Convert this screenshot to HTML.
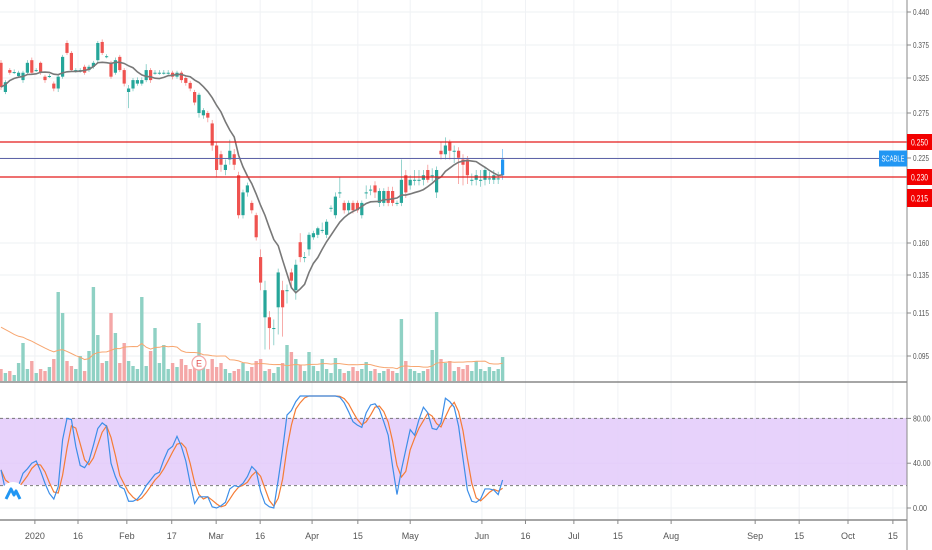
<!DOCTYPE html>
<html><head><meta charset="utf-8"><style>
body{margin:0;background:#fff;}
svg{display:block;font-family:"Liberation Sans",sans-serif;}
</style></head><body>
<svg id="chart" width="932" height="550" viewBox="0 0 932 550">
<rect x="0" y="0" width="932" height="550" fill="#fff"/>
<g id="grid"></g>
<rect x="0" y="418" width="907" height="67" fill="#e4cdfb" opacity="0.9"/>
<g id="vol"></g>
<g id="candles"></g>
<g id="lines"></g>
<g id="stoch"></g>
<g id="axes"></g>
</svg>
<script>
const priceTicks=[0.440,0.375,0.325,0.275,0.225,0.160,0.135,0.115,0.095];
const priceTickLabels=["0.440","0.375","0.325","0.275","0.225","0.160","0.135","0.115","0.095"];
const levels=[0.250,0.230];
const levelLabels=["0.250","0.230"];
const lastLabel="0.215";
const stochTicks=[80,40,0];
const stochTickLabels=["80.00","40.00","0.00"];
const dateLabels=["2020","16","Feb","17","Mar","16","Apr","15","May","Jun","16","Jul","15","Aug","Sep","15","Oct","15"];
const dateIdx=[7.7,17.5,28.6,38.8,48.9,58.9,70.7,81.1,93,109.3,119.2,130.2,140.2,152.3,171.4,181.4,192.5,202.7];
const opens=[.348,.305,.337,.334,.328,.322,.333,.352,.337,.348,.327,.328,.317,.310,.327,.379,.363,.337,.337,.342,.337,.342,.352,.381,.358,.348,.333,.357,.337,.305,.310,.317,.317,.322,.337,.333,.333,.333,.333,.333,.327,.333,.325,.318,.305,.275,.273,.275,.266,.248,.243,.234,.240,.243,.231,.194,.219,.209,.194,.149,.113,.113,.108,.118,.127,.127,.137,.127,.161,.149,.155,.167,.170,.176,.170,.203,.194,.219,.209,.200,.209,.209,.194,.219,.221,.224,.209,.209,.220,.220,.209,.209,.231,.224,.228,.228,.228,.234,.231,.219,.245,.243,.250,.245,.245,.240,.240,.228,.228,.228,.228,.229,.228,.229,.231];
const closes=[.312,.319,.333,.334,.333,.333,.348,.333,.337,.333,.322,.328,.310,.327,.357,.363,.337,.337,.337,.333,.342,.348,.379,.363,.358,.327,.352,.337,.317,.310,.322,.322,.322,.337,.322,.333,.333,.333,.333,.327,.333,.322,.318,.310,.290,.301,.279,.271,.248,.234,.237,.237,.245,.237,.194,.219,.224,.200,.167,.131,.127,.108,.108,.137,.118,.127,.132,.143,.149,.149,.170,.172,.178,.176,.186,.203,.216,.219,.200,.209,.200,.200,.209,.219,.221,.219,.220,.220,.209,.209,.209,.228,.219,.228,.228,.228,.231,.228,.231,.234,.243,.248,.245,.245,.241,.237,.231,.228,.231,.228,.234,.229,.231,.229,.240];
const highs=[.352,.322,.340,.338,.336,.336,.352,.356,.340,.350,.330,.331,.320,.330,.360,.384,.366,.340,.340,.345,.345,.351,.383,.386,.361,.351,.356,.360,.340,.315,.325,.326,.326,.346,.340,.337,.337,.337,.337,.336,.336,.336,.328,.321,.308,.304,.282,.278,.269,.250,.245,.240,.252,.246,.233,.221,.226,.212,.197,.155,.132,.116,.112,.140,.132,.130,.140,.147,.172,.153,.173,.175,.180,.185,.189,.206,.219,.230,.212,.212,.212,.212,.212,.224,.224,.227,.222,.222,.223,.223,.212,.240,.234,.231,.234,.234,.234,.237,.235,.236,.250,.254,.252,.248,.247,.243,.242,.232,.234,.234,.236,.233,.234,.233,.246];
const lows=[.308,.302,.330,.331,.325,.318,.330,.330,.334,.330,.318,.325,.306,.305,.324,.360,.334,.333,.333,.330,.334,.339,.349,.360,.355,.324,.330,.334,.313,.282,.306,.314,.314,.319,.318,.330,.330,.330,.330,.323,.324,.318,.314,.306,.286,.271,.270,.267,.245,.230,.233,.231,.237,.234,.190,.190,.216,.196,.163,.127,.098,.098,.100,.105,.104,.120,.129,.122,.145,.145,.150,.164,.166,.172,.166,.198,.190,.215,.196,.196,.196,.197,.190,.214,.217,.215,.204,.205,.205,.205,.205,.205,.215,.221,.224,.224,.224,.226,.227,.215,.240,.240,.240,.238,.225,.224,.225,.224,.224,.223,.224,.225,.225,.225,.228];
const volumes=[12,8,10,6,18,38,12,20,8,12,10,14,22,89,68,20,15,12,25,10,30,94,46,18,20,68,48,18,38,20,15,12,84,15,30,53,18,36,12,18,14,22,16,12,20,58,15,12,22,14,18,12,8,10,12,18,10,14,20,22,10,12,8,14,18,36,29,22,16,10,29,15,10,22,12,8,23,12,8,10,14,10,12,19,10,12,8,10,12,10,8,62,20,12,10,8,10,12,31,69,22,18,20,10,14,12,16,10,20,12,10,14,10,12,24];
const priorVolumeAvg=[56];
const stochK=[34,16,16,19,20,31,35,40,42,33,22,13,8,19,61,80,79,55,38,36,42,56,71,76,73,40,28,19,17,6,6,8,13,20,25,30,32,43,52,55,64,55,42,22,4,10,10,10,1,0,2,5,17,20,19,22,28,37,33,15,4,1,0,25,52,83,87,95,100,100,100,100,100,100,100,100,100,99,94,86,77,74,72,85,92,93,88,77,65,37,12,34,52,70,65,79,90,85,71,70,76,98,95,90,73,44,16,6,5,8,17,17,16,12,25];

const N=closes.length;
const X=i=>1+4.4*i;
const pY=[12,45,78,113,142,177,198,243,275,313,356];
const pV=[0.440,0.375,0.325,0.275,0.250,0.230,0.215,0.160,0.135,0.115,0.095];
function Y(p){for(let k=0;k<pV.length-1;k++){if(p>=pV[k+1]||k==pV.length-2){const t=(pV[k]-p)/(pV[k]-pV[k+1]);return pY[k]+t*(pY[k+1]-pY[k]);}}}
function tickY(p){if(Math.abs(p-0.225)<1e-6)return 158;return Y(p);}
const VY=v=>381-v*1.0;
const SY=v=>508-v*1.12;
const NS="http://www.w3.org/2000/svg";
function el(tag,attrs,parent){const e=document.createElementNS(NS,tag);for(const k in attrs)e.setAttribute(k,attrs[k]);parent.appendChild(e);return e;}
const G=id=>document.getElementById(id);

const grid=G('grid');
priceTicks.forEach((p,i)=>{const l=el('line',{x1:0,x2:907,y1:tickY(p),y2:tickY(p),stroke:'#eef0f3'},grid);

});
dateIdx.forEach(d=>{const l=el('line',{x1:X(d),x2:X(d),y1:0,y2:520,stroke:'#f0f2f5'},grid);

});
[40].forEach(v=>{const l=el('line',{x1:0,x2:907,y1:SY(v),y2:SY(v),stroke:'#e0d0f5'},grid);

});
{const l=el('line',{x1:0,x2:907,y1:SY(0),y2:SY(0),stroke:'#eef0f3'},grid);

}

const vg=G('vol');
for(let i=0;i<N;i++){const up=closes[i]>=opens[i];const h=381-VY(volumes[i]);
const r=el('rect',{x:X(i)-1.7,y:VY(volumes[i]),width:3.4,height:h,fill:up?'#8fd1c4':'#f4a7a7'},vg);

}
let vpts=[];for(let i=0;i<N;i++){const s=Math.max(0,i-19);let sum=0;for(let j=s;j<=i;j++)sum+=volumes[j];const missing=20-(i-s+1);sum+=missing*priorVolumeAvg[0];vpts.push(X(i)+','+VY(sum/20));}
{const p=el('polyline',{points:vpts.join(' '),fill:'none',stroke:'#f7a670','stroke-width':1},vg);

}
{const c=el('circle',{cx:199,cy:363,r:7,fill:'#fff',stroke:'#f4a7a7','stroke-width':1.2},vg);


const t=el('text',{x:199,y:366.5,'font-size':9,'text-anchor':'middle',fill:'#e05050'},vg);t.textContent='E';

}

const cg=G('candles');
for(let i=0;i<N;i++){const up=closes[i]>=opens[i];const col=i==N-1?'#2196f3':(up?'#26a69a':'#ef5350');
const w=el('line',{x1:X(i),x2:X(i),y1:Y(highs[i]),y2:Y(lows[i]),stroke:col,'stroke-width':0.8,opacity:0.6},cg);


const t=Math.min(Y(opens[i]),Y(closes[i]));const h=Math.max(1,Math.abs(Y(opens[i])-Y(closes[i])));
const b=el('rect',{x:X(i)-1.6,y:t,width:3.2,height:h,fill:col},cg);

}

const lg=G('lines');
let mpts=[];for(let i=0;i<N;i++){const s=Math.max(0,i-8);let sum=0;for(let j=s;j<=i;j++)sum+=closes[j];mpts.push(X(i)+','+Y(sum/(i-s+1)));}
{const p=el('polyline',{points:mpts.join(' '),fill:'none',stroke:'#787878','stroke-width':1.6},lg);

}
levels.forEach((v,i)=>{const l=el('line',{x1:0,x2:907,y1:Y(v),y2:Y(v),stroke:'#e31b1b','stroke-width':1.2},lg);

});
{const l=el('line',{x1:0,x2:880,y1:Y(closes[N-1])-1,y2:Y(closes[N-1])-1,stroke:'#5f64a8','stroke-width':1},lg);

}

const sg=G('stoch');
[80,20].forEach(v=>{const l=el('line',{x1:0,x2:907,y1:SY(v),y2:SY(v),stroke:'#777','stroke-dasharray':'3,3'},sg);

});
const D=stochK.map((v,i)=>{const s=Math.max(0,i-2);let sum=0;for(let j=s;j<=i;j++)sum+=stochK[j];return sum/(i-s+1);});
{const p=el('polyline',{points:D.map((v,i)=>X(i)+','+SY(v)).join(' '),fill:'none',stroke:'#f57c35','stroke-width':1.2},sg);

}
{const p=el('polyline',{points:stochK.map((v,i)=>X(i)+','+SY(v)).join(' '),fill:'none',stroke:'#3d8ee8','stroke-width':1.2},sg);

}
{const c=el('circle',{cx:13,cy:494,r:12,fill:'#fff'},sg);


const p=el('path',{d:'M6,499 L11,489 L14,495 L16,491 L20,499',fill:'none',stroke:'#2196f3','stroke-width':3,'stroke-linejoin':'round'},sg);

}

const ag=G('axes');
function line(a,n){const l=el('line',a,ag);return l;}
function text(x,y,s,n,fill,anchor,size,len){const a={x:x,y:y,'font-size':size||9,fill:fill||'#555','text-anchor':anchor||'start'};if(len){a.textLength=len;a.lengthAdjust='spacingAndGlyphs';}const t=el('text',a,ag);t.textContent=s;return t;}
line({x1:907,x2:907,y1:0,y2:550,stroke:'#888'},'price-axis-line');
line({x1:0,x2:907,y1:382,y2:382,stroke:'#888','stroke-width':1.5},'pane-separator');
line({x1:0,x2:907,y1:520,y2:520,stroke:'#888','stroke-width':1.5},'time-axis-line');
priceTicks.forEach((p,i)=>{const y=tickY(p);line({x1:907,x2:911,y1:y,y2:y,stroke:'#888'},'price-tick');text(913,y+3,priceTickLabels[i],'price-tick-label','#555','start',8.5,16);});
stochTicks.forEach((v,i)=>{const y=SY(v);line({x1:907,x2:911,y1:y,y2:y,stroke:'#888'},'stoch-tick');text(913,y+3,stochTickLabels[i],'stoch-tick-label','#555','start',8.5,stochTickLabels[i].length*3.5);});
dateLabels.forEach((s,i)=>{const x=X(dateIdx[i]);line({x1:x,x2:x,y1:520,y2:524,stroke:'#888'},'date-tick');text(x,539,s,'date-label','#555','middle',9);});
levels.forEach((v,i)=>{const y=Y(v);const r=el('rect',{x:907,y:y-8,width:25,height:16,fill:'#f20000'},ag);


text(911,y+3.5,levelLabels[i],'level-price-label','#fff','start',9,17);});
{const y=198;const r=el('rect',{x:907,y:y-9,width:25,height:18,fill:'#f20000'},ag);


text(911,y+3.5,lastLabel,'current-price-label','#fff','start',9,17);}
{const y=Y(closes[N-1])-1;const r=el('rect',{x:879,y:y-8,width:28,height:16,fill:'#2196f3'},ag);


text(893,y+3,'SCABLE','symbol-label','#fff','middle',8,23);}
</script>
</body></html>
